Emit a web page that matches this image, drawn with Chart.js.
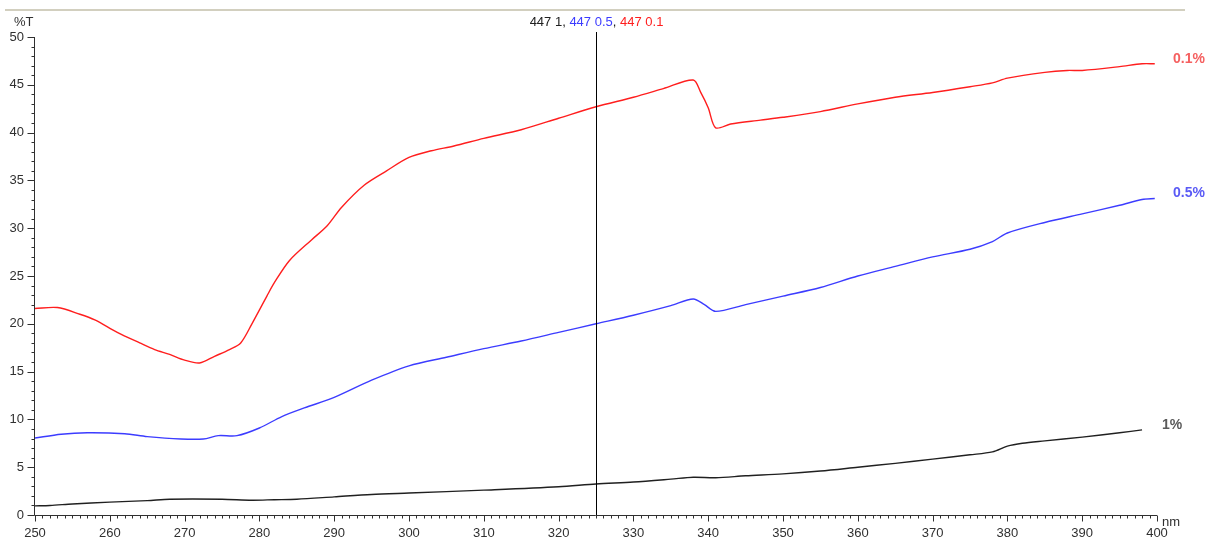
<!DOCTYPE html>
<html>
<head>
<meta charset="utf-8">
<script src="https://cdn.jsdelivr.net/npm/chart.js@4/dist/chart.umd.min.js"></script>
<style>
  body { margin: 0; background: #fff; }
</style>
</head>
<body>
<canvas id="mycanvas" width="1213" height="544"></canvas>
<script>
// spectra: wavelength (nm) and %T
var redNm = [250,253,256,258,261,264,266,268,270,272,274,276,277.5,279,281,282,284,287,289,291,294,297,300,303,306,310,315,320,325,330,334,338,339,340,341,343,347,350,355,360,365,370,375,378,380,385,388,390,395,398,399.7];
var redT  = [21.6,21.7,21.0,20.4,19.1,18.0,17.3,16.8,16.2,15.9,16.6,17.3,18.0,20.0,22.9,24.3,26.6,28.8,30.2,32.2,34.5,36.0,37.4,38.1,38.6,39.4,40.3,41.5,42.7,43.7,44.6,45.5,44.2,42.6,40.5,40.9,41.3,41.6,42.2,43.0,43.7,44.2,44.8,45.2,45.7,46.3,46.5,46.5,46.9,47.2,47.2];

var blueNm = [250,253.5,257,262,265,269.5,272.5,274.5,277,280,283,286,290,295,300,305,310,315,320,325,330,335,338,339.5,341,345,350,355,360,365,370,375,378,380,385,390,395,398,399.7];
var blueT  = [8.05,8.45,8.6,8.5,8.2,7.95,7.95,8.3,8.3,9.1,10.3,11.2,12.3,14.1,15.6,16.5,17.4,18.2,19.1,20.0,20.9,21.9,22.6,22.0,21.3,22.0,22.9,23.8,25.0,26.0,27.0,27.8,28.6,29.5,30.6,31.5,32.4,33.0,33.1];

var blackNm = [250,252,255,260,265,268,275,279,282,285,290,295,300,310,320,325,330,335,338,341,345,350,355,360,365,370,375,378,380,382,385,390,395,398];
var blackT  = [0.95,1.0,1.15,1.35,1.5,1.65,1.65,1.55,1.6,1.65,1.9,2.15,2.3,2.6,2.95,3.25,3.45,3.75,3.95,3.9,4.1,4.3,4.6,5.0,5.4,5.85,6.3,6.6,7.2,7.5,7.75,8.15,8.6,8.9];

var seriesNames = ['1%', '0.5%', '0.1%'];
var cursorNm = 325;
var cursorText = ['447 1', '447 0.5', '447 0.1'];
var xTickLabels = [250,260,270,280,290,300,310,320,330,340,350,360,370,380,390,400];
var yTickLabels = [0,5,10,15,20,25,30,35,40,45,50];

var FONT = '"Liberation Sans Narrow", "Liberation Sans", Arial, sans-serif';

function pairs(xs, ys) {
  var out = [];
  for (var i in xs) out.push({x: xs[i], y: ys[i]});
  return out;
}

var chartdata = {
  datasets: [
    { label: seriesNames[0], data: pairs(blackNm, blackT), borderColor: '#202020', labelColor: '#5a5a5a', labelDx: 5 },
    { label: seriesNames[1], data: pairs(blueNm, blueT), borderColor: '#3c3cff', labelColor: '#5a5af5', labelDx: 16 },
    { label: seriesNames[2], data: pairs(redNm, redT), borderColor: '#ff1e1e', labelColor: '#f56060', labelDx: 16 }
  ]
};

// axis ticks (major every 5 / 10, minor every 1), frame line, cursor and labels
var decorations = {
  id: 'decorations',
  afterDraw: function(chart) {
    var c = chart.ctx, xs = chart.scales.x, ys = chart.scales.y, a = chart.chartArea;
    c.save();

    // top rule
    c.fillStyle = '#d2cfbf';
    c.fillRect(5, 9, 1180, 2);

    // axes
    c.strokeStyle = '#303030';
    c.lineWidth = 1;
    c.beginPath();
    c.moveTo(a.left - 0.5, a.top);
    c.lineTo(a.left - 0.5, a.bottom + 0.5);
    c.lineTo(a.right, a.bottom + 0.5);
    c.stroke();

    c.beginPath();
    for (var v = 0; v <= 50; v++) {
      var py = Math.round(ys.getPixelForValue(v)) + 0.5;
      var len = (v % 5 === 0) ? 7 : 3;
      c.moveTo(a.left - 0.5 - len, py);
      c.lineTo(a.left - 0.5, py);
    }
    for (var n = 250; n <= 400; n++) {
      var px = Math.round(xs.getPixelForValue(n)) + 0.5;
      var l2 = (n % 10 === 0) ? 6 : 3;
      c.moveTo(px, a.bottom + 0.5);
      c.lineTo(px, a.bottom + 0.5 + l2);
    }
    c.stroke();

    // axis units
    c.fillStyle = '#303030';
    c.font = '13px ' + FONT;
    c.textBaseline = 'middle';
    c.textAlign = 'left';
    c.fillText('%T', 14, 22);
    c.fillText('nm', a.right + 5, a.bottom + 7);

    // cursor line
    var cx = Math.round(xs.getPixelForValue(cursorNm)) + 0.5;
    c.strokeStyle = '#000';
    c.beginPath();
    c.moveTo(cx, 32);
    c.lineTo(cx, a.bottom);
    c.stroke();

    // cursor readout
    var cols = chart.data.datasets.map(function(d){ return d.borderColor; });
    var parts = [];
    for (var i = 0; i < cursorText.length; i++) {
      parts.push({t: cursorText[i], col: i === 0 ? '#202020' : cols[i]});
      if (i < cursorText.length - 1) parts.push({t: ', ', col: '#202020'});
    }
    var total = 0;
    parts.forEach(function(p){ total += c.measureText(p.t).width; });
    var tx = cx - total / 2;
    parts.forEach(function(p){
      c.fillStyle = p.col;
      c.fillText(p.t, tx, 22);
      tx += c.measureText(p.t).width;
    });

    // series names at the right end
    c.font = 'bold 14px ' + FONT;
    chart.data.datasets.forEach(function(d){
      var last = d.data[d.data.length - 1];
      c.fillStyle = d.labelColor;
      c.fillText(d.label, a.right + d.labelDx, ys.getPixelForValue(last.y) - 5);
    });

    c.restore();
  }
};

var ctx = document.getElementById('mycanvas');
var lineGraph = new Chart(ctx, {
  type: 'line',
  data: chartdata,
  plugins: [decorations],
  options: {
    responsive: false,
    animation: false,
    devicePixelRatio: 1,
    layout: { padding: { top: 37, right: 56, left: 0, bottom: 0 } },
    elements: {
      point: { radius: 0 },
      line: { borderWidth: 1.4, tension: 0.3 }
    },
    plugins: {
      legend: { display: false },
      tooltip: { enabled: false }
    },
    scales: {
      x: {
        type: 'linear',
        min: 250, max: 400,
        afterFit: function(s){ s.height = 29; },
        afterBuildTicks: function(s){ s.ticks = xTickLabels.map(function(v){ return {value: v}; }); },
        grid: { display: false, drawTicks: false },
        border: { display: false },
        ticks: { padding: 11, color: '#303030', font: { family: FONT, size: 13 }, maxRotation: 0, autoSkip: false }
      },
      y: {
        min: 0, max: 50,
        afterFit: function(s){ s.width = 35; },
        afterBuildTicks: function(s){ s.ticks = yTickLabels.map(function(v){ return {value: v}; }); },
        grid: { display: false, drawTicks: false },
        border: { display: false },
        ticks: { padding: 11, color: '#303030', font: { family: FONT, size: 13 } }
      }
    }
  }
});
</script>
</body>
</html>
